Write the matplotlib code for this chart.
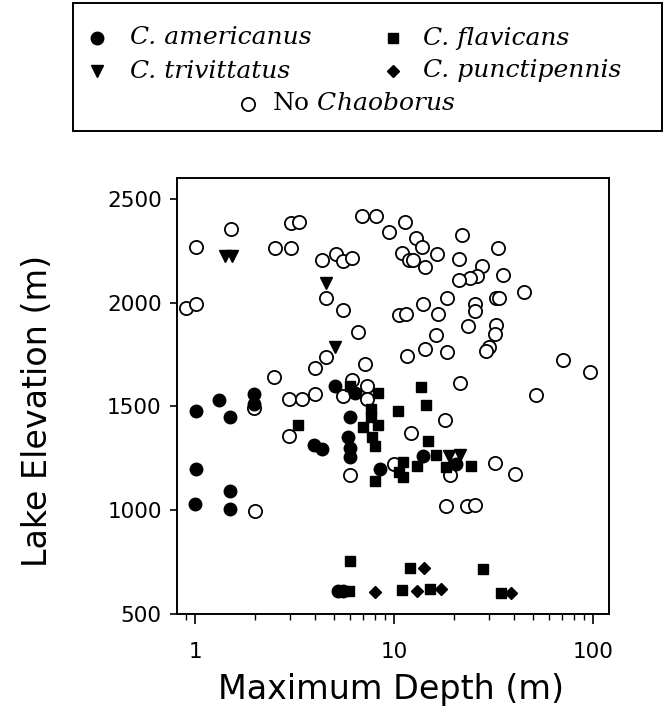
import matplotlib
matplotlib.use('Agg')
import matplotlib.pyplot as plt
from matplotlib.patches import Rectangle
from matplotlib.ticker import FixedLocator, LogLocator, NullFormatter

plt.rcParams['mathtext.fontset'] = 'dejavuserif'

# --- data: (maximum depth m, lake elevation m) ---
americanus_x = [1.01, 1.31, 1.50, 1.98, 1.98, 1.01, 1.50, 1.00, 1.50, 3.96, 4.32,
                5.03, 6.33, 6.00, 5.87, 5.98, 5.98, 8.5, 13.9, 20.5, 5.2, 5.5]
americanus_y = [1480, 1531, 1451, 1562, 1512, 1197, 1094, 1030, 1005, 1314, 1294,
                1600, 1566, 1451, 1352, 1299, 1255, 1197, 1262, 1222, 610, 610]

flavicans_x = [6.0, 8.3, 13.6, 7.6, 7.6, 7.0, 8.3, 7.7, 8.0, 3.3, 10.4, 14.4, 14.7,
               16.3, 13.0, 11.1, 10.6, 11.1, 8.0, 18.2, 24.4, 5.9, 11.0, 15.2, 6.0,
               12.0, 27.9, 34.5]
flavicans_y = [1597, 1566, 1593, 1485, 1450, 1402, 1410, 1354, 1307, 1408, 1478, 1507,
               1331, 1267, 1215, 1230, 1186, 1162, 1143, 1206, 1212, 610, 616, 620,
               757, 720, 715, 600]

trivittatus_x = [1.41, 1.53, 4.54, 5.03, 18.8, 21.3]
trivittatus_y = [2225, 2225, 2093, 1784, 1262, 1265]

punctipennis_x = [8.0, 13.0, 17.2, 14.1, 38.6]
punctipennis_y = [607, 612, 620, 720, 600]

none_x = [1.01, 1.51, 2.52, 3.02, 3.02, 3.33, 4.35, 5.07, 5.54, 6.10, 6.85, 8.14,
          9.38, 11.3, 12.8, 13.8, 11.0, 11.9, 12.4, 14.2, 0.90, 1.01, 4.54, 5.52,
          6.59, 10.6, 11.5, 13.9, 14.2, 11.65, 7.09, 4.54, 4.01, 2.50, 6.10, 7.26,
          16.4, 21.9, 21.1, 33.2, 27.7, 26.0, 24.0, 21.1, 35.1, 44.8, 32.6, 33.7,
          18.4, 25.6, 25.6, 16.6, 23.4, 32.6, 32.0, 29.8, 28.8, 16.3, 18.4, 70.7,
          96.3, 21.3, 51.5, 5.54, 7.26, 2.97, 3.46, 4.01, 1.98, 2.97, 12.1, 10.0,
          5.98, 2.0, 17.9, 19.0, 32.0, 40.5, 18.2, 23.1, 25.5]
none_y = [2267, 2355, 2264, 2264, 2381, 2386, 2205, 2233, 2198, 2214, 2415, 2415,
          2340, 2388, 2313, 2266, 2239, 2205, 2205, 2171, 1973, 1992, 2021, 1965,
          1857, 1941, 1944, 1992, 1776, 1743, 1706, 1737, 1684, 1641, 1628, 1596,
          2234, 2327, 2209, 2264, 2175, 2126, 2116, 2110, 2131, 2049, 2021, 2021,
          2020, 1992, 1960, 1946, 1885, 1890, 1850, 1786, 1765, 1845, 1762, 1723,
          1668, 1612, 1556, 1550, 1535, 1537, 1537, 1559, 1492, 1356, 1372, 1224,
          1170, 996, 1435, 1170, 1226, 1175, 1020, 1020, 1025]

xticks = [1, 10, 100]
xtick_labels = ['1', '10', '100']
yticks = [500, 1000, 1500, 2000, 2500]

W, H = 665, 715
fig = plt.figure(figsize=(W / 100, H / 100), dpi=100)
ax = fig.add_axes([177 / W, 1 - 614 / H, (609 - 177) / W, (614 - 178) / H])

open_kw = dict(ls='none', marker='o', ms=9.5, mfc='white', mec='black', mew=1.3)
ax.plot(none_x, none_y, **open_kw)
ax.plot(americanus_x, americanus_y, ls='none', marker='o', ms=9, color='black')
ax.plot(flavicans_x, flavicans_y, ls='none', marker='s', ms=7.5, color='black')
ax.plot(trivittatus_x, trivittatus_y, ls='none', marker='v', ms=9, color='black')
ax.plot(punctipennis_x, punctipennis_y, ls='none', marker='D', ms=6, color='black')

ax.set_xscale('log')
ax.set_xlim(0.81, 120)
ax.set_ylim(500, 2600)
ax.xaxis.set_major_locator(FixedLocator(xticks))
ax.set_xticklabels(xtick_labels)
ax.xaxis.set_minor_locator(LogLocator(base=10, subs=range(2, 10)))
ax.xaxis.set_minor_formatter(NullFormatter())
ax.set_yticks(yticks)
ax.tick_params(axis='x', which='major', direction='out', length=7, width=1.2,
               pad=13, labelsize=15.5)
ax.tick_params(axis='x', which='minor', direction='out', length=4, width=1.0)
ax.tick_params(axis='y', which='major', direction='out', length=5, width=1.2,
               pad=6, labelsize=15.5)
for s in ax.spines.values():
    s.set_linewidth(1.4)

ax.set_xlabel('Maximum Depth (m)', fontsize=24, va='center')
ax.set_ylabel('Lake Elevation (m)', fontsize=24, va='center')
ax.xaxis.set_label_coords((391 - 177) / 432, (614 - 690) / 436)
ax.yaxis.set_label_coords((38 - 177) / 432, 1 - (411 - 178) / 436)

# --- legend box drawn in pixel coordinates ---
lg = fig.add_axes([0, 1 - 140 / H, 1, 140 / H])
lg.set_xlim(0, W)
lg.set_ylim(140, 0)
lg.axis('off')
lg.add_patch(Rectangle((73, 3), 589, 128, fill=False, lw=1.4, ec='black'))
tkw = dict(fontsize=18, family='DejaVu Serif', va='center', ha='left')
lg.plot(97, 38, marker='o', ms=9, color='black')
lg.text(130, 38, 'C. americanus', style='italic', **tkw)
lg.plot(393, 38, marker='s', ms=7.5, color='black')
lg.text(423, 38, 'C. flavicans', style='italic', **tkw)
lg.plot(97, 71, marker='v', ms=9, color='black')
lg.text(130, 71, 'C. trivittatus', style='italic', **tkw)
lg.plot(393, 71, marker='D', ms=6, color='black')
lg.text(423, 71, 'C. punctipennis', style='italic', **tkw)
lg.plot(248, 104, **open_kw)
lg.text(272, 104, 'No $\\mathit{Chaoborus}$', **tkw)

fig.savefig('out.png', dpi=100)
